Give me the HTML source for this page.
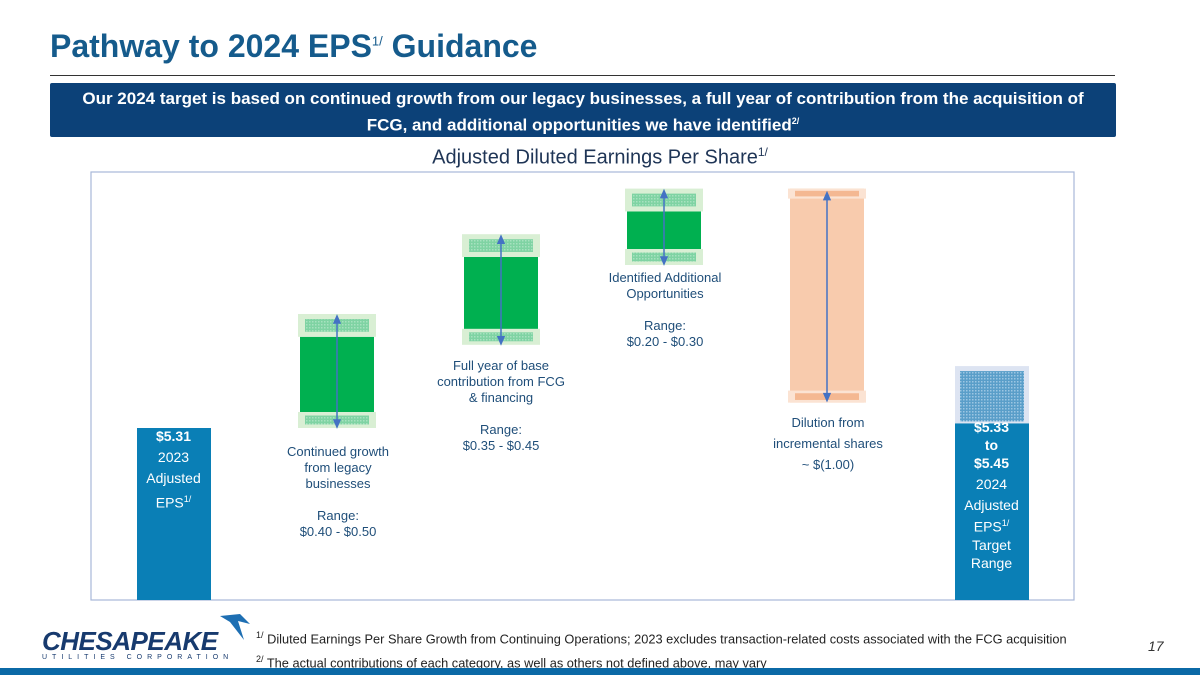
<!DOCTYPE html>
<html><head><meta charset="utf-8"><style>
body{margin:0;width:1200px;height:675px;background:#fff;font-family:"Liberation Sans",sans-serif;overflow:hidden;position:relative}
.abs{position:absolute}
.lbl{position:absolute;color:#1f4e79;font-size:13px;text-align:center;line-height:16px}
.ft{position:absolute;left:256px;font-family:"Liberation Sans",sans-serif;font-size:12.8px;color:#222}
sup{font-size:9px}
</style></head><body>
<div class="abs" style="left:50px;top:28px;font-size:32px;font-weight:bold;color:#155b8c">Pathway to 2024 EPS<sup style="font-size:13px;font-weight:normal">1/</sup> Guidance</div>
<div class="abs" style="left:50px;top:75px;width:1065px;height:1px;background:#333"></div>
<div class="abs" style="left:50px;top:83px;width:1066px;height:54px;background:#0c4178;border-radius:2px;color:#fff;font-weight:bold;font-size:17px;text-align:center;line-height:22px;padding-top:5px;box-sizing:border-box">Our 2024 target is based on continued growth from our legacy businesses, a full year of contribution from the acquisition of<br>FCG, and additional opportunities we have identified<sup>2/</sup></div>
<div class="abs" style="left:0;width:1200px;top:145px;text-align:center;font-size:20px;color:#1f3556">Adjusted Diluted Earnings Per Share<sup style="font-size:12px">1/</sup></div>
<svg class="abs" style="left:0;top:0" width="1200" height="675">
<defs><pattern id="hat" width="3" height="3" patternUnits="userSpaceOnUse"><rect width="3" height="3" fill="#7fd3a3"/><rect width="1.5" height="1.5" fill="#a7e2bf"/></pattern>
<pattern id="hatb" width="3" height="3" patternUnits="userSpaceOnUse"><rect width="3" height="3" fill="#5a9ec9"/><rect width="1.5" height="1.5" fill="#9cc6e2"/></pattern></defs>
<rect x="91" y="172" width="983" height="428" fill="none" stroke="#a8b8d8" stroke-width="1.2"/>
<g id="bars"></g>
</svg>
<div class="lbl" style="left:137px;top:426px;width:73px;color:#fff;font-size:14px;line-height:21px"><b>$5.31</b><br>2023<br>Adjusted<br>EPS<sup>1/</sup></div>
<div class="lbl" style="left:258px;top:444px;width:160px">Continued growth<br>from legacy<br>businesses<br><br>Range:<br>$0.40 - $0.50</div>
<div class="lbl" style="left:421px;top:358px;width:160px">Full year of base<br>contribution from FCG<br>&amp; financing<br><br>Range:<br>$0.35 - $0.45</div>
<div class="lbl" style="left:585px;top:270px;width:160px">Identified Additional<br>Opportunities<br><br>Range:<br>$0.20 - $0.30</div>
<div class="lbl" style="left:748px;top:412px;width:160px;line-height:21px">Dilution from<br>incremental shares<br>~ $(1.00)</div>
<div class="lbl" style="left:950px;top:418px;width:83px;color:#fff;font-size:14px;line-height:18px"><b>$5.33<br>to<br>$5.45</b><br><span style="line-height:24px">2024</span><br>Adjusted<br>EPS<sup>1/</sup><br>Target<br>Range</div>
<div class="abs" style="left:42px;top:626px;width:200px">
<div style="font-size:26px;font-weight:900;font-style:italic;color:#173a6e;letter-spacing:-0.5px;font-family:'Liberation Sans',sans-serif">CHESAPEAKE</div>
<div style="font-size:7px;letter-spacing:5px;color:#173a6e;margin-top:-3px">UTILITIES CORPORATION</div>
<svg class="abs" style="left:176px;top:-14px" width="34" height="30"><path d="M2 4 L22 2 L32 12 L20 9 L26 28 L12 10 Z" fill="#1e6fb3"/></svg></div>
<div class="ft" style="top:630px"><sup>1/</sup> Diluted Earnings Per Share Growth from Continuing Operations; 2023 excludes transaction-related costs associated with the FCG acquisition</div>
<div class="ft" style="top:654px"><sup>2/</sup> The actual contributions of each category, as well as others not defined above, may vary</div>
<div class="abs" style="left:1148px;top:638px;font-size:14px;font-style:italic;color:#333">17</div>
<div class="abs" style="left:0;top:668px;width:1200px;height:7px;background:#0b69a6"></div>
<script>
const categories=["2023","Legacy","FCG","Additional","Dilution","2024"];
const lows=[5.31,0.40,0.35,0.20,-1.00,5.33];
const highs=[5.31,0.50,0.45,0.30,-1.00,5.45];
const K=228, BASEV=5.31, BASEY=428, BOTTOM=600;
function y(v){return BASEY-(v-BASEV)*K;}
const xs=[137,300,464,627,790,955], W=74;
const g=document.getElementById('bars');
const NS='http://www.w3.org/2000/svg';
function r(x,y1,w,h,fill,name){const e=document.createElementNS(NS,'rect');e.setAttribute('x',x);e.setAttribute('y',y1);e.setAttribute('width',w);e.setAttribute('height',Math.max(0,h));e.setAttribute('fill',fill);


g.appendChild(e);return e;}
function arrow(x,y1,y2){const l=document.createElementNS(NS,'path');
l.setAttribute('d',`M${x} ${y1+6}L${x} ${y2-6}M${x-3} ${y1+7}L${x} ${y1}L${x+3} ${y1+7}ZM${x-3} ${y2-7}L${x} ${y2}L${x+3} ${y2-7}Z`);
l.setAttribute('stroke','#4472c4');l.setAttribute('fill','#4472c4');l.setAttribute('stroke-width','1.5');


g.appendChild(l);}
function band(x,y1,h,neg,name){
 r(x-2,y1,W+4,h,neg?'#fbe3d3':'#d9efd4',name);
 r(x+5,y1+h*0.22,W-10,h*0.56,neg?'#f4b892':'url(#hat)',name+'-hatch');
}
let cum=lows[0], prevTop=lows[0];
for(let i=0;i<categories.length;i++){
 const x=xs[i];
 if(i===0){r(x,y(lows[0]),W,BOTTOM-y(lows[0]),'#0a7fb6','bar-2023');continue;}
 if(i===categories.length-1){
  const yt=y(highs[i]),yb=y(lows[i]);
  r(x,yt-30,W,yb-yt+30,'#dde4f2','bar-2024-range');
  r(x+5,yt-25,W-10,yb-yt+23,'url(#hatb)','bar-2024-hatch');
  r(x,yb,W,BOTTOM-yb,'#0a7fb6','bar-2024');continue;}
 const neg=lows[i]<0;
 const name=categories[i].toLowerCase();
 if(!neg){
  const ys=y(cum), ylo=y(cum+lows[i]), yhi=y(cum+highs[i]);
  r(x,ylo,W,ys-ylo,'#00b050','bar-'+name);
  band(x,yhi,ylo-yhi,false,'band-top-'+name);
  const bh=16;
  const by=(i===1)?ys-bh:ys-bh/2;
  band(x,by,bh,false,'band-bottom-'+name);
  arrow(x+W/2,yhi+2,by+bh-1);
  prevTop=cum+highs[i];
  cum+=lows[i];
 } else {
  const start=prevTop;
  const yt=y(start), yb=y(start+lows[i])-14;
  r(x,yt,W,yb-yt,'#f8cbad','bar-'+name);
  band(x,yt,10,true,'band-top-'+name);
  band(x,yb-12,12,true,'band-bottom-'+name);
  arrow(x+W/2,yt+4,yb-2);
  cum=start+lows[i];
 }
}
</script>
</body></html>
